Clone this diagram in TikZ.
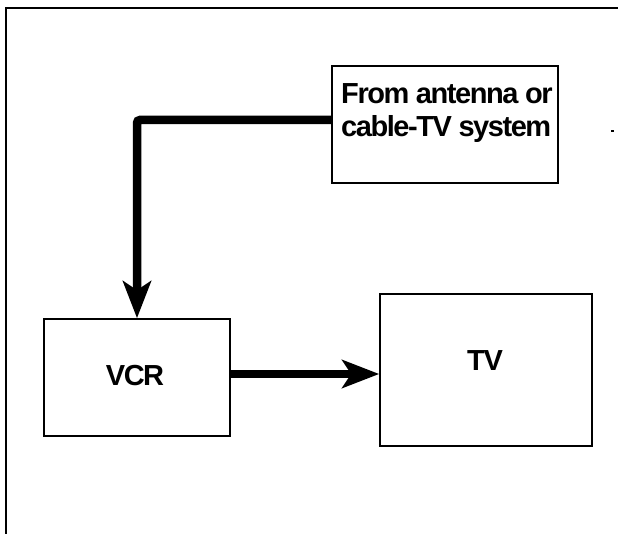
\documentclass[tikz,border=0pt]{standalone}
\usepackage{fontspec}
\setmainfont{Liberation Sans}[LetterSpace=-5]
\usetikzlibrary{arrows.meta}
\begin{document}
\begin{tikzpicture}[x=1pt,y=-1pt,
  box/.style={draw, line width=1.6pt, inner sep=0pt},
  lbl/.style={font=\fontsize{29}{33.4}\selectfont\bfseries, inner sep=0pt},
  fatarrow/.style={line width=8.5pt, -{Stealth[length=37pt,width=28pt,inset=9pt]}}]
\useasboundingbox (0,0) rectangle (618,534);
% frame
\draw[line width=1.6pt] (6,534) -- (6,8) -- (618,8);
% boxes
\node[box, minimum width=226pt, minimum height=117pt] (ant) at (445,124.5) {};
\node[box, minimum width=186pt, minimum height=117pt] (vcr) at (137,377.5) {};
\node[box, minimum width=212pt, minimum height=152pt] (tv) at (486,370) {};
% texts
\node[lbl, align=left, anchor=north west] (antt) at (341,83) {From antenna or\\cable-TV system};
\node[lbl, anchor=base] (vcrt) at (135,385) {VCR};
\node[lbl, anchor=base] (tvt) at (485,370.7) {TV};
% connectors
\draw[fatarrow, rounded corners=3pt] ([yshift=4.5pt]ant.west) -| (vcr.north);
\draw[fatarrow] ([yshift=3.5pt]vcr.east) coordinate (a) -- (a -| tv.west);
% small speck
\fill (610.5,130) rectangle (613.5,132.5);
\end{tikzpicture}
\end{document}
